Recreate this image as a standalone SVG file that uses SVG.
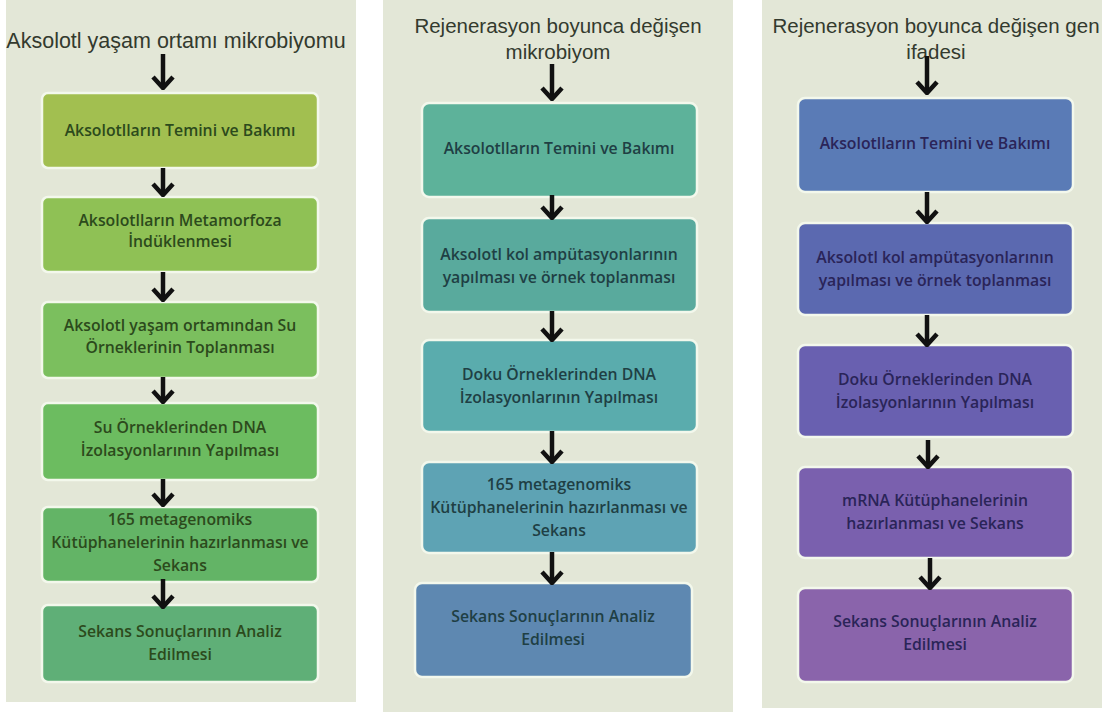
<svg xmlns="http://www.w3.org/2000/svg" width="1107" height="715" viewBox="0 0 1107 715">
<style>
.panel{fill:#e3e7d7}
.box{stroke:#f3f8ec;stroke-width:2.5}
.title{font-family:"Liberation Sans",Arial,sans-serif;font-size:20.5px;fill:#333a2e;text-anchor:middle}
.t1{font-size:21.5px}
.t{font-family:"Open Sans","Liberation Sans",Arial,sans-serif;font-size:15.8px;font-weight:600;text-anchor:middle}
.g{fill:#2c4a1c}
.c{fill:#1f3f44}
.p{fill:#2a2458}
.arr{stroke:#111;stroke-width:4.5;fill:none;marker-end:url(#ah)}
</style>
<defs>
<marker id="ah" viewBox="0 0 24 15" refX="12" refY="13" markerWidth="24" markerHeight="15" markerUnits="userSpaceOnUse" orient="0">
<path d="M2,2 L12,13 L22,2" fill="none" stroke="#111" stroke-width="4.5" stroke-linejoin="miter"/>
</marker>
</defs>
<rect width="1107" height="715" fill="#ffffff"/>
<rect class="panel" x="6" y="0" width="350" height="702"/>
<rect class="panel" x="383" y="0" width="350" height="712"/>
<rect class="panel" x="762" y="0" width="340" height="708"/>

<g id="titles">
<text class="title t1" x="176" y="48">Aksolotl yaşam ortamı mikrobiyomu</text>
<text class="title" x="558" y="33">Rejenerasyon boyunca değişen</text>
<text class="title" x="558" y="59">mikrobiyom</text>
<text class="title" x="936" y="33">Rejenerasyon boyunca değişen gen</text>
<text class="title" x="936" y="59">ifadesi</text>
</g>

<g id="p1b1"><rect class="box" x="42" y="93" width="276" height="75" rx="6" fill="#a2bf50"/>
<text class="t g" x="180" y="136">Aksolotlların Temini ve Bakımı</text></g>
<g id="p1b2"><rect class="box" x="42" y="197" width="276" height="75" rx="6" fill="#8fc155"/>
<text class="t g" x="180" y="226">Aksolotlların Metamorfoza</text>
<text class="t g" x="180" y="247">İndüklenmesi</text></g>
<g id="p1b3"><rect class="box" x="42" y="302" width="276" height="76" rx="6" fill="#7bbf5e"/>
<text class="t g" x="180" y="331">Aksolotl yaşam ortamından Su</text>
<text class="t g" x="180" y="353">Örneklerinin Toplanması</text></g>
<g id="p1b4"><rect class="box" x="42" y="403" width="276" height="77" rx="6" fill="#6cbc60"/>
<text class="t g" x="180" y="433">Su Örneklerinden  DNA</text>
<text class="t g" x="180" y="456">İzolasyonlarının Yapılması</text></g>
<g id="p1b5"><rect class="box" x="42" y="507" width="276" height="75" rx="6" fill="#63b466"/>
<text class="t g" x="180" y="525">165 metagenomiks</text>
<text class="t g" x="180" y="548">Kütüphanelerinin  hazırlanması ve</text>
<text class="t g" x="180" y="571">Sekans</text></g>
<g id="p1b6"><rect class="box" x="42" y="605" width="276" height="77" rx="6" fill="#5faf77"/>
<text class="t g" x="180" y="637">Sekans Sonuçlarının Analiz</text>
<text class="t g" x="180" y="660">Edilmesi</text></g>

<g id="p2b1"><rect class="box" x="422" y="103" width="275" height="94" rx="7" fill="#5db29a"/>
<text class="t c" x="559" y="154">Aksolotlların Temini ve Bakımı</text></g>
<g id="p2b2"><rect class="box" x="422" y="218" width="275" height="94" rx="7" fill="#59aa9d"/>
<text class="t c" x="559" y="260">Aksolotl kol ampütasyonlarının</text>
<text class="t c" x="559" y="283">yapılması ve örnek toplanması</text></g>
<g id="p2b3"><rect class="box" x="422" y="340" width="275" height="92" rx="7" fill="#5aacad"/>
<text class="t c" x="559" y="380">Doku Örneklerinden  DNA</text>
<text class="t c" x="559" y="403">İzolasyonlarının Yapılması</text></g>
<g id="p2b4"><rect class="box" x="422" y="462" width="275" height="91" rx="7" fill="#5ea3b4"/>
<text class="t c" x="559" y="490">165 metagenomiks</text>
<text class="t c" x="559" y="513">Kütüphanelerinin  hazırlanması ve</text>
<text class="t c" x="559" y="536">Sekans</text></g>
<g id="p2b5"><rect class="box" x="415" y="583" width="277" height="94" rx="7" fill="#5e88b1"/>
<text class="t c" x="553" y="622">Sekans Sonuçlarının Analiz</text>
<text class="t c" x="553" y="645">Edilmesi</text></g>

<g id="p3b1"><rect class="box" x="798" y="98" width="275" height="94" rx="7" fill="#5a7bb6"/>
<text class="t p" x="935" y="149">Aksolotlların Temini ve Bakımı</text></g>
<g id="p3b2"><rect class="box" x="798" y="223" width="275" height="92" rx="7" fill="#5b69b0"/>
<text class="t p" x="935" y="263">Aksolotl kol ampütasyonlarının</text>
<text class="t p" x="935" y="286">yapılması ve örnek toplanması</text></g>
<g id="p3b3"><rect class="box" x="798" y="345" width="275" height="92" rx="7" fill="#6960b0"/>
<text class="t p" x="935" y="385">Doku Örneklerinden  DNA</text>
<text class="t p" x="935" y="408">İzolasyonlarının Yapılması</text></g>
<g id="p3b4"><rect class="box" x="798" y="467" width="275" height="91" rx="7" fill="#7a60ae"/>
<text class="t p" x="935" y="506">mRNA Kütüphanelerinin</text>
<text class="t p" x="935" y="529">hazırlanması ve Sekans</text></g>
<g id="p3b5"><rect class="box" x="798" y="588" width="275" height="94" rx="7" fill="#8a64ab"/>
<text class="t p" x="935" y="627">Sekans Sonuçlarının Analiz</text>
<text class="t p" x="935" y="650">Edilmesi</text></g>

<g id="connectors">
<path class="arr" d="M163,54 V88"/>
<path class="arr" d="M163,168 V195"/>
<path class="arr" d="M163,272 V300"/>
<path class="arr" d="M163,377 V402"/>
<path class="arr" d="M163,479 V505"/>
<path class="arr" d="M163,579 V607"/>
<path class="arr" d="M552,64 V99"/>
<path class="arr" d="M552,195 V218"/>
<path class="arr" d="M552,311 V340"/>
<path class="arr" d="M552,431 V462"/>
<path class="arr" d="M552,552 V583"/>
<path class="arr" d="M927,56 V93"/>
<path class="arr" d="M927,192 V222"/>
<path class="arr" d="M927,315 V345"/>
<path class="arr" d="M928,440 V467"/>
<path class="arr" d="M930,558 V588"/>
</g>
</svg>
